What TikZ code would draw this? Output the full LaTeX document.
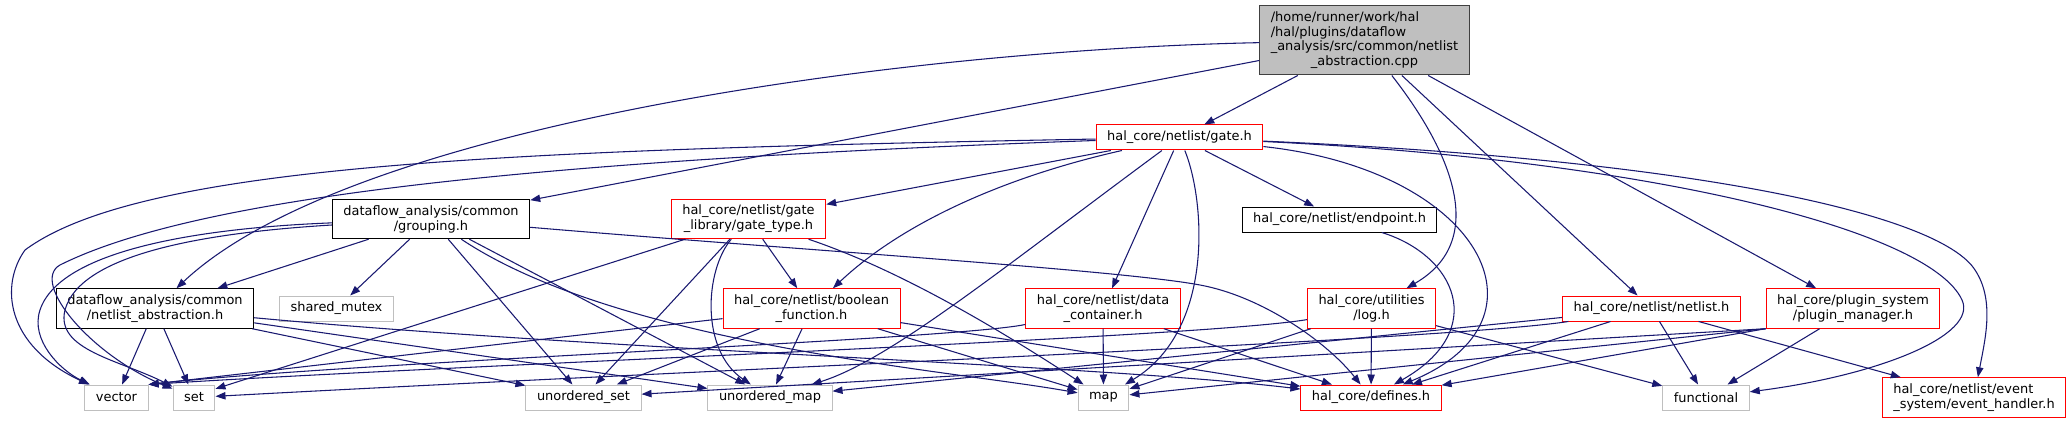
\documentclass[tikz,border=0pt]{standalone}
\usepackage{fontspec}
\setmainfont{DejaVu Sans}
\usetikzlibrary{arrows.meta}
\definecolor{inclblue}{HTML}{191970}
\definecolor{sysgray}{HTML}{BFBFBF}
\definecolor{rootfill}{HTML}{BFBFBF}
\definecolor{rootdraw}{HTML}{404040}
\begin{document}
\begin{tikzpicture}[x=0.75pt,y=0.75pt,
    file/.style={rectangle,fill=white,line width=0.75pt,inner xsep=8.3pt,inner ysep=0pt,
      minimum height=18.75pt,font=\fontsize{9.7}{11.2}\selectfont},
    redfile/.style={file,draw=red},
    docfile/.style={file,draw=black},
    sysfile/.style={file,draw=sysgray},
    rootfile/.style={file,draw=rootdraw,fill=rootfill,minimum height=51.75pt},
    twolines/.style={align=center,minimum height=29.6pt},
    incl/.style={-{Triangle[length=7.5pt,width=5.5pt]},draw=inclblue,line width=0.8pt}]
        \useasboundingbox (0,0) rectangle (2072,-424);
        \node[rootfile] (cpp) at (1364.5,-40.5) {\begin{tabular}{@{}l@{}}/home/runner/work/hal\\/hal/plugins/dataflow\\\_analysis/src/common/netlist\\\multicolumn{1}{@{}c@{}}{\_abstraction.cpp}\end{tabular}};
        \node[redfile] (gate) at (1179.5,-137.5) {hal\_core/netlist/gate.h};
        \node[docfile,twolines] (grouping) at (431,-219) {dataflow\_analysis/common\\/grouping.h};
        \node[redfile,twolines] (gatetype) at (748.5,-219) {hal\_core/netlist/gate\\\_library/gate\_type.h};
        \node[docfile] (endpoint) at (1339.5,-219.5) {hal\_core/netlist/endpoint.h};
        \node[docfile,twolines] (nlabs) at (155,-308.5) {dataflow\_analysis/common\\/netlist\_abstraction.h};
        \node[sysfile] (mutex) at (336.5,-308.5) {shared\_mutex};
        \node[redfile,twolines] (boolfn) at (811.5,-308.5) {hal\_core/netlist/boolean\\\_function.h};
        \node[redfile,twolines] (datacont) at (1103,-308.5) {hal\_core/netlist/data\\\_container.h};
        \node[redfile,twolines] (logh) at (1371.5,-308.5) {hal\_core/utilities\\/log.h};
        \node[redfile] (netlist) at (1651.5,-308.5) {hal\_core/netlist/netlist.h};
        \node[redfile,twolines] (pluginmgr) at (1853,-308.5) {hal\_core/plugin\_system\\/plugin\_manager.h};
        \node[sysfile] (vector) at (116.5,-397.5) {vector};
        \node[sysfile] (set) at (194,-397.5) {set};
        \node[sysfile] (uset) at (583.5,-397.5) {unordered\_set};
        \node[sysfile] (umap) at (770,-397.5) {unordered\_map};
        \node[sysfile] (map) at (1103.5,-397.5) {map};
        \node[redfile] (defines) at (1371,-397.5) {hal\_core/defines.h};
        \node[sysfile] (functional) at (1706,-397.5) {functional};
        \node[redfile,twolines,align=left] (evhandler) at (1974,-397.5) {hal\_core/netlist/event\\\_system/event\_handler.h};
        \draw[incl] (cpp) -- (gate);
        \draw[incl] (cpp) -- (grouping);
        \draw[incl] (cpp) .. controls (900,-50) and (350,-125) .. (nlabs);
        \draw[incl] (cpp) .. controls (1450,-150) and (1490,-240) .. (logh);
        \draw[incl] (cpp) -- (netlist);
        \draw[incl] (cpp) -- (pluginmgr);
        \draw[incl] (gate) .. controls (500,-150) and (140,-165) .. (25,-250) .. controls (0,-285) and (5,-345) .. (vector);
        \draw[incl] (gate) .. controls (550,-160) and (200,-195) .. (60,-265) .. controls (30,-282) and (90,-355) .. (set);
        \draw[incl] (gate) -- (gatetype);
        \draw[incl] (gate) .. controls (1000,-178) and (900,-225) .. (boolfn);
        \draw[incl] (gate) .. controls (1000,-270) and (890,-360) .. (umap);
        \draw[incl] (gate) -- (datacont);
        \draw[incl] (gate) .. controls (1205,-200) and (1215,-330) .. (map);
        \draw[incl] (gate) -- (endpoint);
        \draw[incl] (gate) .. controls (1480,-170) and (1560,-320) .. (defines);
        \draw[incl] (gate) .. controls (1650,-160) and (1930,-230) .. (1962,-300) .. controls (1978,-335) and (1880,-375) .. (functional);
        \draw[incl] (gate) .. controls (1700,-160) and (1940,-215) .. (1975,-270) .. controls (1995,-300) and (1985,-340) .. (evhandler);
        \draw[incl] (grouping) -- (nlabs);
        \draw[incl] (grouping) -- (mutex);
        \draw[incl] (grouping) .. controls (200,-228) and (60,-250) .. (40,-310) .. controls (30,-340) and (60,-370) .. (vector);
        \draw[incl] (grouping) .. controls (200,-233) and (80,-255) .. (65,-310) .. controls (55,-350) and (120,-360) .. (set);
        \draw[incl] (grouping) -- (uset);
        \draw[incl] (grouping) -- (umap);
        \draw[incl] (grouping) .. controls (620,-345) and (950,-370) .. (map);
        \draw[incl] (grouping) .. controls (800,-250) and (1120,-270) .. (1200,-285) .. controls (1260,-296) and (1325,-340) .. (defines);
        \draw[incl] (nlabs) -- (vector);
        \draw[incl] (nlabs) -- (set);
        \draw[incl] (nlabs) -- (uset);
        \draw[incl] (nlabs) -- (umap);
        \draw[incl] (nlabs) .. controls (600,-350) and (1100,-365) .. (defines);
        \draw[incl] (gatetype) -- (set.22);
        \draw[incl] (gatetype) -- (uset);
        \draw[incl] (gatetype) .. controls (705,-270) and (700,-350) .. (umap);
        \draw[incl] (gatetype) -- (boolfn);
        \draw[incl] (gatetype) .. controls (900,-270) and (1000,-330) .. (map);
        \draw[incl] (boolfn) -- (vector.north east);
        \draw[incl] (boolfn) -- (uset);
        \draw[incl] (boolfn) -- (umap);
        \draw[incl] (boolfn) -- (map);
        \draw[incl] (boolfn) -- (defines);
        \draw[incl] (datacont) .. controls (950,-340) and (350,-362) .. (vector.north east);
        \draw[incl] (datacont) -- (map);
        \draw[incl] (datacont) -- (defines);
        \draw[incl] (endpoint) .. controls (1455,-255) and (1490,-330) .. (defines);
        \draw[incl] (logh) .. controls (1200,-338) and (450,-365) .. (vector.north east);
        \draw[incl] (logh) -- (map);
        \draw[incl] (logh) -- (defines);
        \draw[incl] (logh) -- (functional);
        \draw[incl] (netlist) .. controls (1450,-340) and (700,-370) .. (set);
        \draw[incl] (netlist) -- (umap);
        \draw[incl] (netlist) -- (defines);
        \draw[incl] (netlist) -- (functional);
        \draw[incl] (netlist) -- (evhandler);
        \draw[incl] (pluginmgr.south west) -- (uset);
        \draw[incl] (pluginmgr.south west) -- (map);
        \draw[incl] (pluginmgr.south west) -- (defines);
        \draw[incl] (pluginmgr) -- (functional);
    \end{tikzpicture}
\end{document}
